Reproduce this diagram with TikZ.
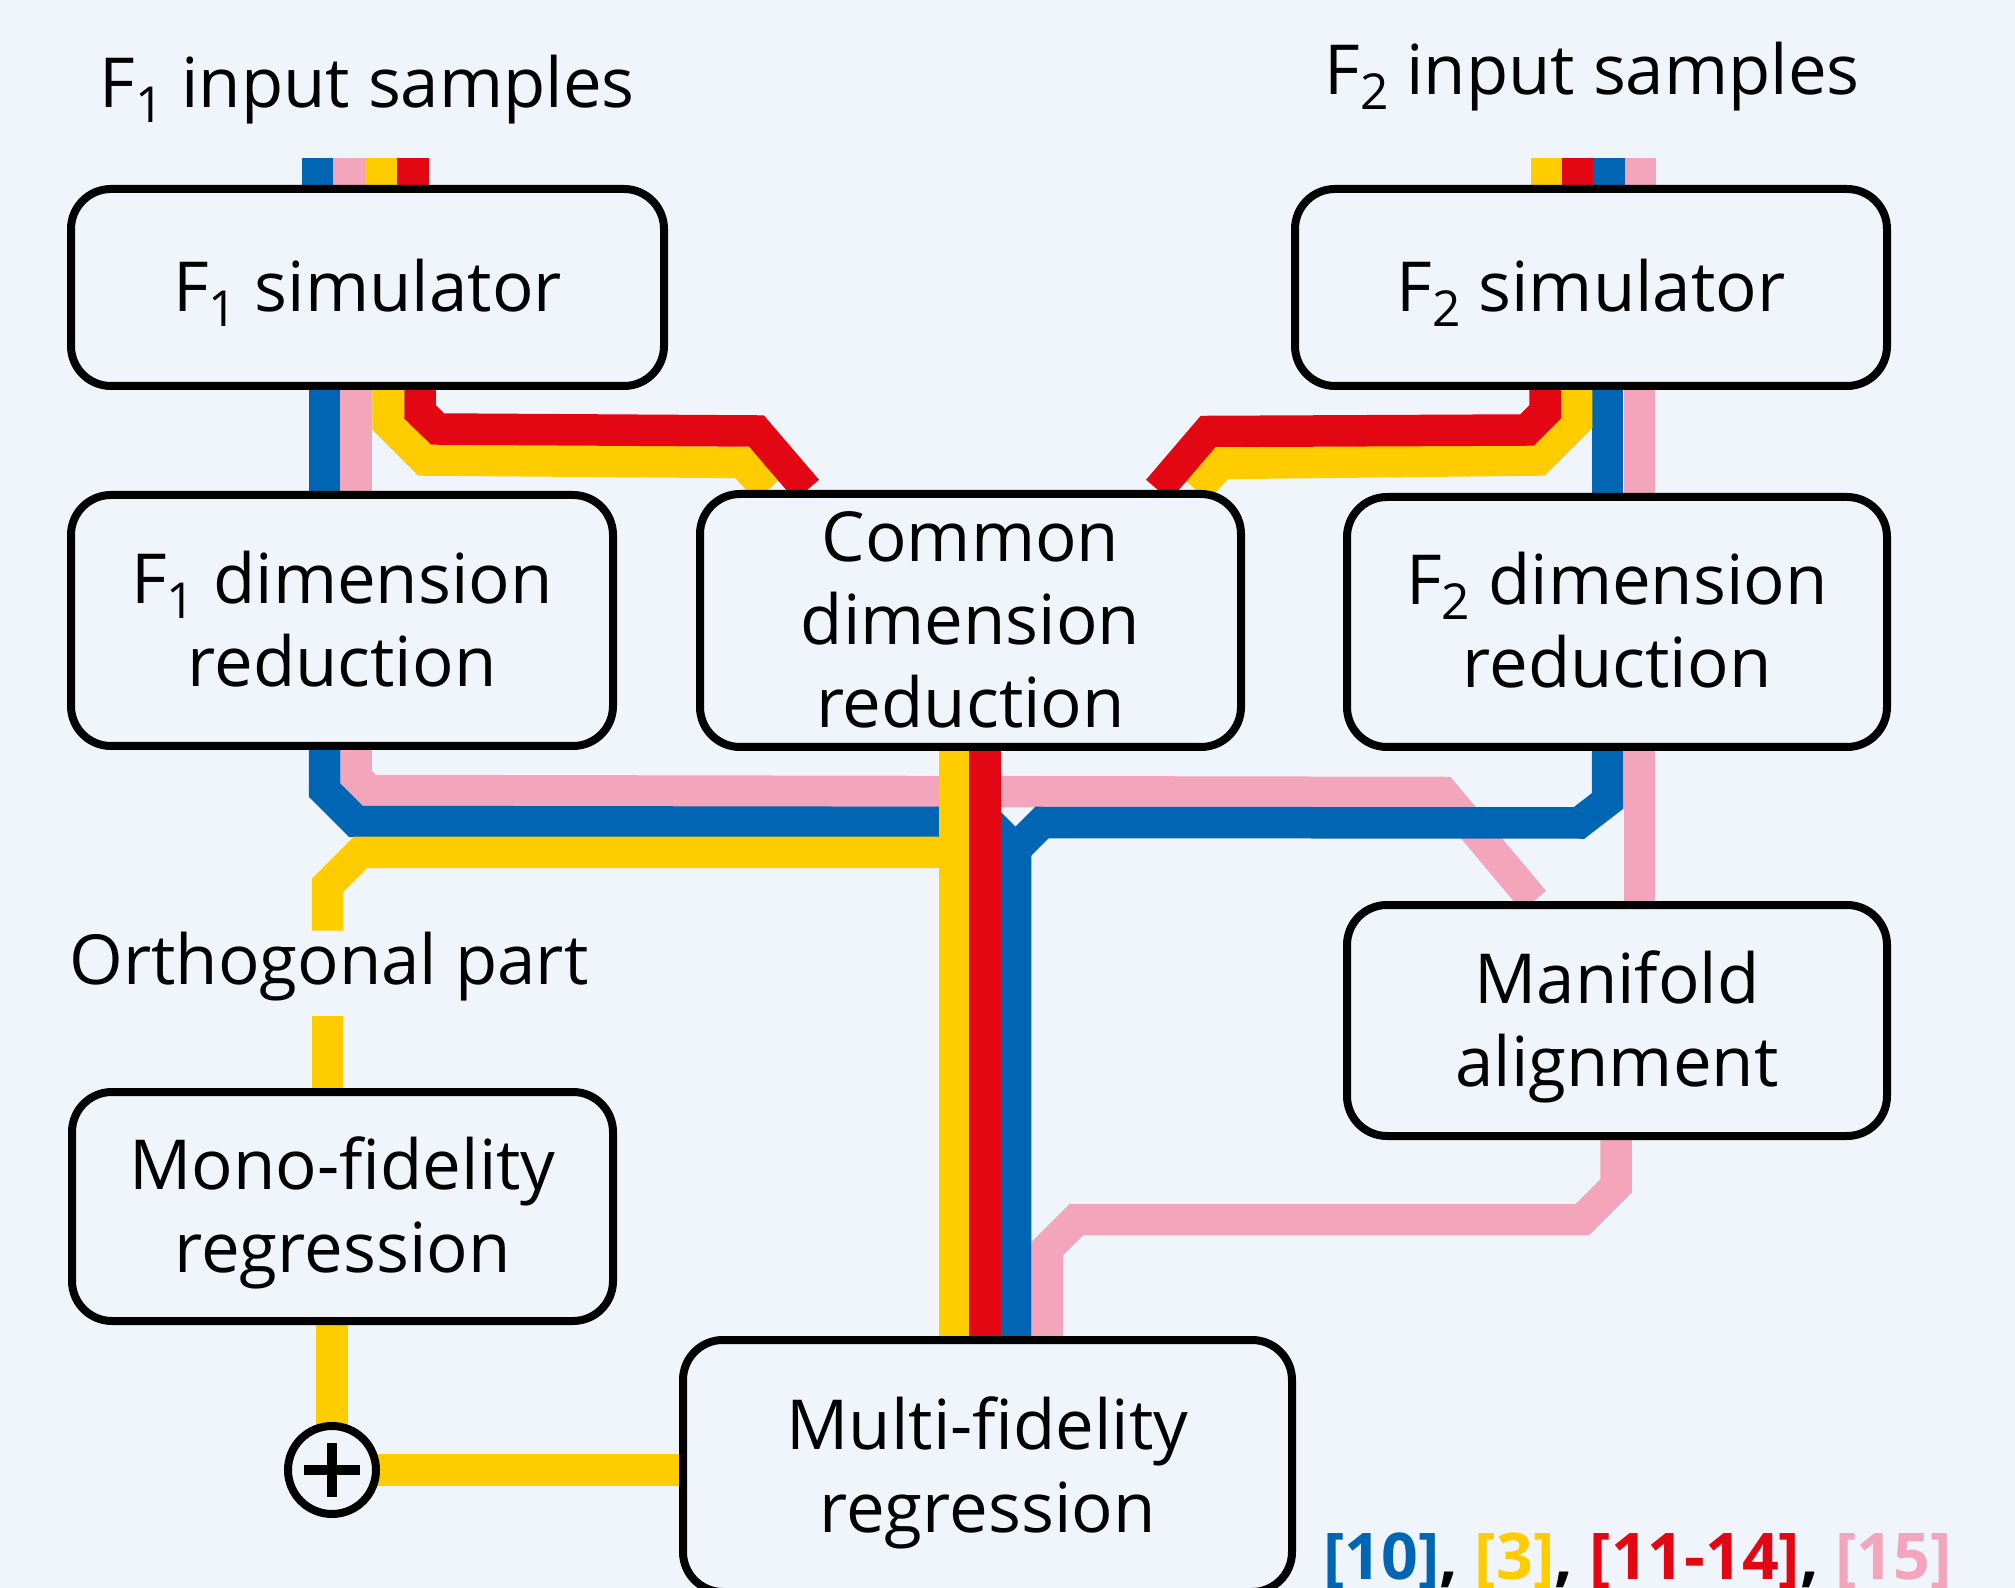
\documentclass[tikz,border=0pt]{standalone}
\usepackage{fontspec}
\setmainfont{Open Sans}
\usetikzlibrary{calc}
\pgfdeclarelayer{bglayer}
\pgfsetlayers{bglayer,main}
\definecolor{cbg}{RGB}{240,244,251}
\definecolor{cblue}{RGB}{0,102,179}
\definecolor{cpink}{RGB}{243,165,187}
\definecolor{cyellow}{RGB}{255,204,0}
\definecolor{cred}{RGB}{227,6,19}
\newcommand\subidx[1]{\raisebox{-7.5pt}{\fontsize{24.8pt}{24.8pt}\selectfont #1}}
\begin{document}
\begin{tikzpicture}[x=0.5pt,y=-0.5pt,
  box/.style={draw=black, line width=4pt, rounded corners=20pt, fill=cbg,
    align=center, inner sep=0pt, text depth=0pt,
    font=\fontsize{34.5pt}{41.5pt}\selectfont},
  oneline/.style={text height=24.5pt},
  twoline/.style={text height=66pt},
  threeline/.style={text height=107.5pt},
  metro/.style={line width=15.75pt, line join=miter},
  lbl/.style={anchor=base west, inner sep=0pt, font=\fontsize{34.5pt}{41.5pt}\selectfont}]
\useasboundingbox (0,0) rectangle (2015,1588);
\clip (0,0) rectangle (2015,1588);

% boxes
\node[box,oneline,minimum width=296.5pt,minimum height=98.5pt] (f1sim) at (367.5,287.5) {F\subidx{1} simulator};
\node[box,oneline,minimum width=296pt,minimum height=98.5pt] (f2sim) at (1591,287.5) {F\subidx{2} simulator};
\node[box,twoline,minimum width=271pt,minimum height=125.5pt] (f1dim) at (342,620.5) {F\subidx{1} dimension\\reduction};
\node[box,threeline,minimum width=270.5pt,minimum height=126.5pt] (common) at (970.5,620.5) {Common\\dimension\\reduction};
\node[box,twoline,minimum width=270pt,minimum height=125pt] (f2dim) at (1617,622) {F\subidx{2} dimension\\reduction};
\node[box,twoline,minimum width=270pt,minimum height=115.5pt] (manifold) at (1617,1020.5) {Manifold\\alignment};
\node[box,twoline,minimum width=270.5pt,minimum height=114.5pt] (mono) at (342.5,1206.5) {Mono-fidelity\\regression};
\node[box,twoline,minimum width=304.5pt,minimum height=126pt] (multi) at (987.5,1466) {Multi-fidelity\\regression};
\node[circle, draw=black, line width=4pt, fill=cbg, minimum size=44pt, inner sep=0pt] (plus) at (332,1470) {};
\draw[line width=5pt] (plus.center) ++(-28,0) -- ++(56,0);
\draw[line width=5pt] (plus.center) ++(0,-27) -- ++(0,54);

% labels
\node[lbl] (in1) at (99,108) {F\subidx{1} input samples};
\node[lbl] (in2) at (1324,95) {F\subidx{2} input samples};
\node[lbl, text height=26.5pt, text depth=16pt] (ortho) at (69,984) {Orthogonal part};
\node[lbl, font=\bfseries\fontsize{32.2pt}{40pt}\selectfont] (refs) at (1323,1579)
  {\textcolor{cblue}{[10]}, \textcolor{cyellow}{[3]}, \textcolor{cred}{[11-14]}, \textcolor{cpink}{[15]}};

\begin{pgfonlayer}{bglayer}
\fill[cbg] (0,0) rectangle (2015,1588);
% input stubs F1
\draw[metro,cblue]   (317.5,158) -- (317.5,0 |- f1sim.north);
\draw[metro,cpink]   (349,158)   -- (349,0 |- f1sim.north);
\draw[metro,cyellow] (381,158)   -- (381,0 |- f1sim.north);
\draw[metro,cred]    (413,158)   -- (413,0 |- f1sim.north);
% input stubs F2
\draw[metro,cyellow] (1546.5,158) -- (1546.5,0 |- f2sim.north);
\draw[metro,cred]    (1577.5,158) -- (1577.5,0 |- f2sim.north);
\draw[metro,cblue]   (1609,158)   -- (1609,0 |- f2sim.north);
\draw[metro,cpink]   (1640.5,158) -- (1640.5,0 |- f2sim.north);
% F1 sim -> F1 dim
\draw[metro,cblue] (325,0 |- f1sim.south) -- (325,0 |- f1dim.north);
\draw[metro,cpink] (356,0 |- f1sim.south) -- (356,0 |- f1dim.north);
% F2 sim -> F2 dim -> manifold
\draw[metro,cblue] (1607.5,0 |- f2sim.south) -- (1607.5,0 |- f2dim.north);
\draw[metro,cpink] (1639.5,0 |- f2sim.south) -- (1639.5,0 |- f2dim.north);
\draw[metro,cpink] (1639.5,0 |- f2dim.south) -- (1639.5,0 |- manifold.north);
% F1 sim -> common
\draw[metro,cyellow] (388,0 |- f1sim.south) -- (388,423) -- (425,460) -- (742,462.5) -- (768,0 |- common.north);
\draw[metro,cred] (420,0 |- f1sim.south) -- (420,411.9) -- (437.6,429) -- (756.5,431) -- (807,0 |- common.north);
% F2 sim -> common
\draw[metro,cyellow] (1576.5,0 |- f2sim.south) -- (1576.5,421.6) -- (1538,460) -- (1221,463.5) -- (1196,0 |- common.north);
\draw[metro,cred] (1545,0 |- f2sim.south) -- (1545,412) -- (1527,430) -- (1208,431.5) -- (1158,0 |- common.north);
% pink F1 dim -> manifold
\draw[metro,cpink] (356,0 |- f1dim.south) -- (356,777) -- (369,790.5) -- (1443,792.5) -- (1534,0 |- manifold.north);
% pink manifold -> multi
\draw[metro,cpink] (1616,0 |- manifold.south) -- (1616,1186) -- (1582.5,1219.5) -- (1076.5,1219.5) -- (1047,1249) -- (1047,0 |- multi.north);
% blue
\coordinate (bm) at (1015.5,849);
\draw[metro,cblue] (324.5,0 |- f1dim.south) -- (324.5,790) -- (356,821.5) -- (989,822.5) -- (bm) -- (bm |- multi.north);
\draw[metro,cblue] (1607.5,0 |- f2dim.south) -- (1607.5,801) -- (1579,823) -- (1042,822.5) -- (bm);
% yellow / red common -> multi
\draw[metro,cyellow] (954.5,0 |- common.south) -- (954.5,0 |- multi.north);
\draw[metro,cred] (985,0 |- common.south) -- (985,0 |- multi.north);
% yellow orthogonal part
\coordinate (yj) at (954.5,852.5);
\draw[metro,cyellow] (yj) -- (360.4,852.5) -- (327.5,885.4) -- (327.5,0 |- ortho.north);
\draw[metro,cyellow] (327.5,0 |- ortho.south) -- (327.5,0 |- mono.north);
\draw[metro,cyellow] (332,0 |- mono.south) -- (plus.center);
\draw[metro,cyellow] (plus.center) -- (plus.center -| multi.west);
\end{pgfonlayer}
\end{tikzpicture}
\end{document}
